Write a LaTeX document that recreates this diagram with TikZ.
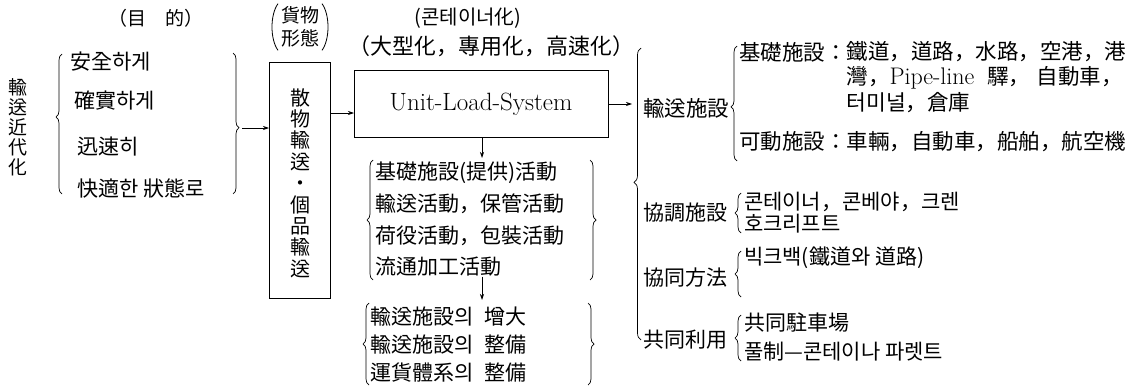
\documentclass[tikz,border=0pt]{standalone}
\usepackage{fontspec}
\newfontfamily\kr{Noto Sans CJK KR}
\usetikzlibrary{arrows.meta,decorations.pathreplacing,calc}
\begin{document}
\begin{tikzpicture}[x=1pt,y=-1pt,
  every node/.style={inner sep=0pt,outer sep=0pt},
  t/.style={font=\kr\fontsize{21}{24}\selectfont,anchor=west},
  tc/.style={font=\kr\fontsize{21}{24}\selectfont},
  arr/.style={-{Stealth[length=6pt,width=4pt]},line width=0.7pt},
  boxline/.style={draw,line width=0.8pt},
  lbr/.style={decorate,decoration={brace,amplitude=6pt,aspect=#1},line width=0.7pt},
  lbr/.default=0.5,
  rbr/.style={decorate,decoration={brace,amplitude=6pt,aspect=#1},line width=0.7pt},
  rbr/.default=0.5]
\fill[white] (0,0) rectangle (1134,388);
\useasboundingbox (0,0) rectangle (1134,388);

% ---------- left: goals ----------
\node[tc,align=center,font=\kr\fontsize{19}{20}\selectfont] (modern) at (18,127) {輸\\送\\近\\代\\化};
\node[tc,font=\kr\fontsize{19}{20}\selectfont] (goalhead) at (156,18) {（目\hspace{1em}的）};
\node[t] (g1) at (70,62) {安全하게};
\node[t] (g2) at (74,101) {確實하게};
\node[t] (g3) at (77,147) {迅速히};
\node[t] (g4) at (77,189) {快適한 狀態로};
\draw[lbr=0.55] (62,194) -- (62,54);
\draw[rbr=0.53] (233,53) -- (233,194);
\coordinate (gR) at (242,128);

% ---------- cargo form ----------
\node[tc,align=center,font=\kr\fontsize{19}{23}\selectfont] (cargohead) at (300,27) {貨物\\形態};
\draw[line width=0.8pt] ($(cargohead.north west)+(-3,-3)$) .. controls ($(cargohead.north west)+(-11,8)$) and ($(cargohead.south west)+(-11,-8)$) .. ($(cargohead.south west)+(-3,3)$);
\draw[line width=0.8pt] ($(cargohead.north east)+(3,-3)$) .. controls ($(cargohead.north east)+(11,8)$) and ($(cargohead.south east)+(11,-8)$) .. ($(cargohead.south east)+(3,3)$);
\node[boxline,minimum width=61pt,minimum height=236pt] (cargo) at (299.5,180) {};
\node[tc,align=center,font=\kr\fontsize{20}{21.4}\selectfont] (cargotxt) at (300,183) {散\\物\\輸\\送\\・\\個\\品\\輸\\送};
\draw[arr] (gR) -- (gR -| cargo.west);

% ---------- unit load system ----------
\node[tc,font=\kr\fontsize{20}{22}\selectfont] (conthead) at (468,18) {(콘테이너化)};
\node[tc,font=\kr\fontsize{22}{24}\selectfont] (typehead) at (491,46) {（大型化，專用化，高速化）};
\node[boxline,minimum width=254pt,minimum height=67pt,font=\fontsize{25}{28}\selectfont] (ul) at (481,104) {Unit-Load-System};
\coordinate (ulin) at ($(ul.west)+(0,9)$);
\draw[arr] (ulin -| cargo.east) -- (ulin);

% activities
\node[t] (a1) at (375,173) {基礎施設(提供)活動};
\node[t] (a2) at (375,204) {輸送活動，保管活動};
\node[t] (a3) at (375,236) {荷役活動，包裝活動};
\node[t] (a4) at (375,267) {流通加工活動};
\draw[lbr] (373,280) -- (373,160);
\draw[rbr] (590,160) -- (590,280);
\coordinate (g2top) at (482,158);
\draw[arr] (ul.south -| g2top) -- (g2top);

% results
\node[t] (b1) at (370,317) {輸送施設의\hspace{0.3em} 增大};
\node[t] (b2) at (370,345) {輸送施設의\hspace{0.3em} 整備};
\node[t] (b3) at (370,373) {運貨體系의\hspace{0.3em} 整備};
\draw[lbr] (369,385) -- (369,303);
\draw[rbr] (588,303) -- (588,385);
\coordinate (g3top) at (482,300);
\draw[arr] (a4.south -| g3top) -- (g3top);

% ---------- right: facilities ----------
\draw[lbr=0.54,decoration={amplitude=7pt}] (641,340) -- (641,48);
\coordinate (bbx) at (632,0);
\draw[arr] (ul.east) -- (ul.east -| bbx);

\node[t,font=\kr\fontsize{21.5}{24}\selectfont] (trans) at (643,108) {輸送施設};
\draw[lbr=0.47] (737,161) -- (737,46);
\node[t,font=\kr\fontsize{21.5}{24}\selectfont] (kl) at (739,52) {基礎施設：};
\node[t,font=\kr\fontsize{21.5}{24}\selectfont] (ki1) at (kl.east) {鐵道，道路，水路，空港，港};
\node[t,font=\kr\fontsize{21.5}{24}\selectfont] (ki2) at ($(ki1.west)+(0,26)$) {灣，{\rmfamily\fontsize{24}{26}\selectfont Pipe-line}\hspace{0.6em}驛，\hspace{0.3em}自動車，};
\node[t,font=\kr\fontsize{21.5}{24}\selectfont] (ki3) at ($(ki1.west)+(0,51)$) {터미널，倉庫};
\node[t,font=\kr\fontsize{21.5}{24}\selectfont] (mov) at (739,142) {可動施設：車輛，自動車，船舶，航空機};

\node[t] (coord) at (643,213) {協調施設};
\draw[lbr] (741,233) -- (741,193);
\node[t] (c1) at (744,202) {콘테이너，콘베야，크렌};
\node[t] (c2) at (744,224) {호크리프트};

\node[t] (coop) at (643,278) {協同方法};
\draw[lbr] (741,297) -- (741,251);
\node[t] (p1) at (744,258) {빅크백(鐵道와 道路)};

\node[t] (share) at (643,340) {共同利用};
\draw[lbr] (741,361) -- (741,315);
\node[t] (s1) at (744,323) {共同駐車場};
\node[t] (s2) at (744,352) {풀制—콘테이나 파렛트};
\end{tikzpicture}
\end{document}
